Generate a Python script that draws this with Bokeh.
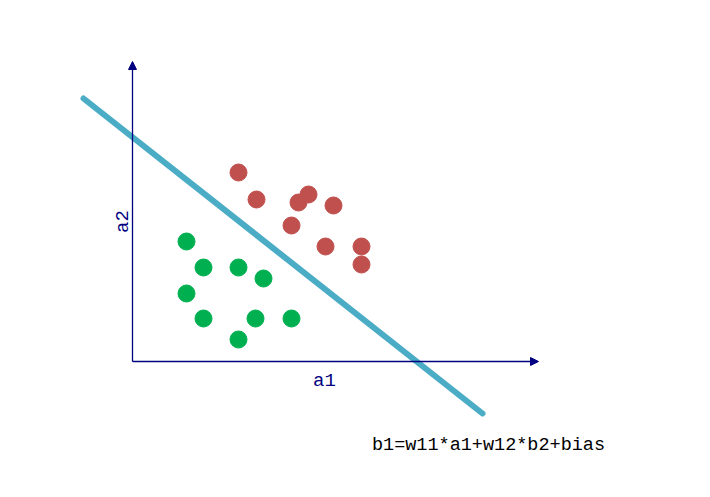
import math
from bokeh.plotting import figure
from bokeh.models import Arrow, NormalHead
from bokeh.core.properties import value
from bokeh.embed import file_html
from bokeh.resources import INLINE

# data (units: a1, a2)
green_a1 = [5.4, 7.1, 10.6, 13.1, 5.4, 7.1, 12.3, 15.9, 10.6]
green_a2 = [12.0, 9.4, 9.4, 8.3, 6.8, 4.3, 4.3, 4.3, 2.2]
red_a1 = [10.6, 12.4, 17.6, 16.6, 20.1, 15.9, 19.3, 22.9, 22.9]
red_a2 = [18.9, 16.2, 16.7, 15.9, 15.6, 13.6, 11.5, 11.5, 9.7]
line_a1 = [-4.9, 35.0]
line_a2 = [26.3, -5.2]
axis_x_end = 40.6
axis_y_end = 30.0
x_label = "a1"
y_label = "a2"
formula = "b1=w11*a1+w12*b2+bias"

NAVY = "#000080"
FONT = value("Liberation Mono")

p = figure(width=694, height=481, x_range=(-13.2, 56.2), y_range=(-12.0, 36.1),
           toolbar_location=None, output_backend="svg", min_border=0)
p.axis.visible = False
p.grid.visible = False
p.outline_line_color = None
p.background_fill_color = "white"

# axes with arrow heads
p.add_layout(Arrow(end=NormalHead(size=8, fill_color=NAVY, line_color=NAVY, line_width=1),
                   x_start=0, y_start=0, x_end=axis_x_end, y_end=0,
                   line_color=NAVY, line_width=1.3))
p.add_layout(Arrow(end=NormalHead(size=8, fill_color=NAVY, line_color=NAVY, line_width=1),
                   x_start=0, y_start=0, x_end=0, y_end=axis_y_end,
                   line_color=NAVY, line_width=1.3))

# decision line
p.line(line_a1, line_a2, line_color="#4bacc6", line_width=6, line_cap="round")

# points
p.scatter(red_a1, red_a2, size=17, fill_color="#c0504d", line_color="#c0504d")
p.scatter(green_a1, green_a2, size=17, fill_color="#00b050", line_color="#00b050")

# labels
p.text(x=[19.2], y=[-1.95], text=[x_label], text_font=FONT, text_font_size="19px",
       text_color=NAVY, text_align="center", text_baseline="middle")
p.text(x=[-1.0], y=[14.0], text=[y_label], text_font=FONT, text_font_size="19px",
       text_color=NAVY, text_align="center", text_baseline="middle", angle=math.pi / 2)
p.text(x=[35.6], y=[-8.4], text=[formula], text_font=FONT, text_font_size="18.5px",
       text_color="black", text_align="center", text_baseline="middle")

open("out.html", "w").write(file_html(p, INLINE))
